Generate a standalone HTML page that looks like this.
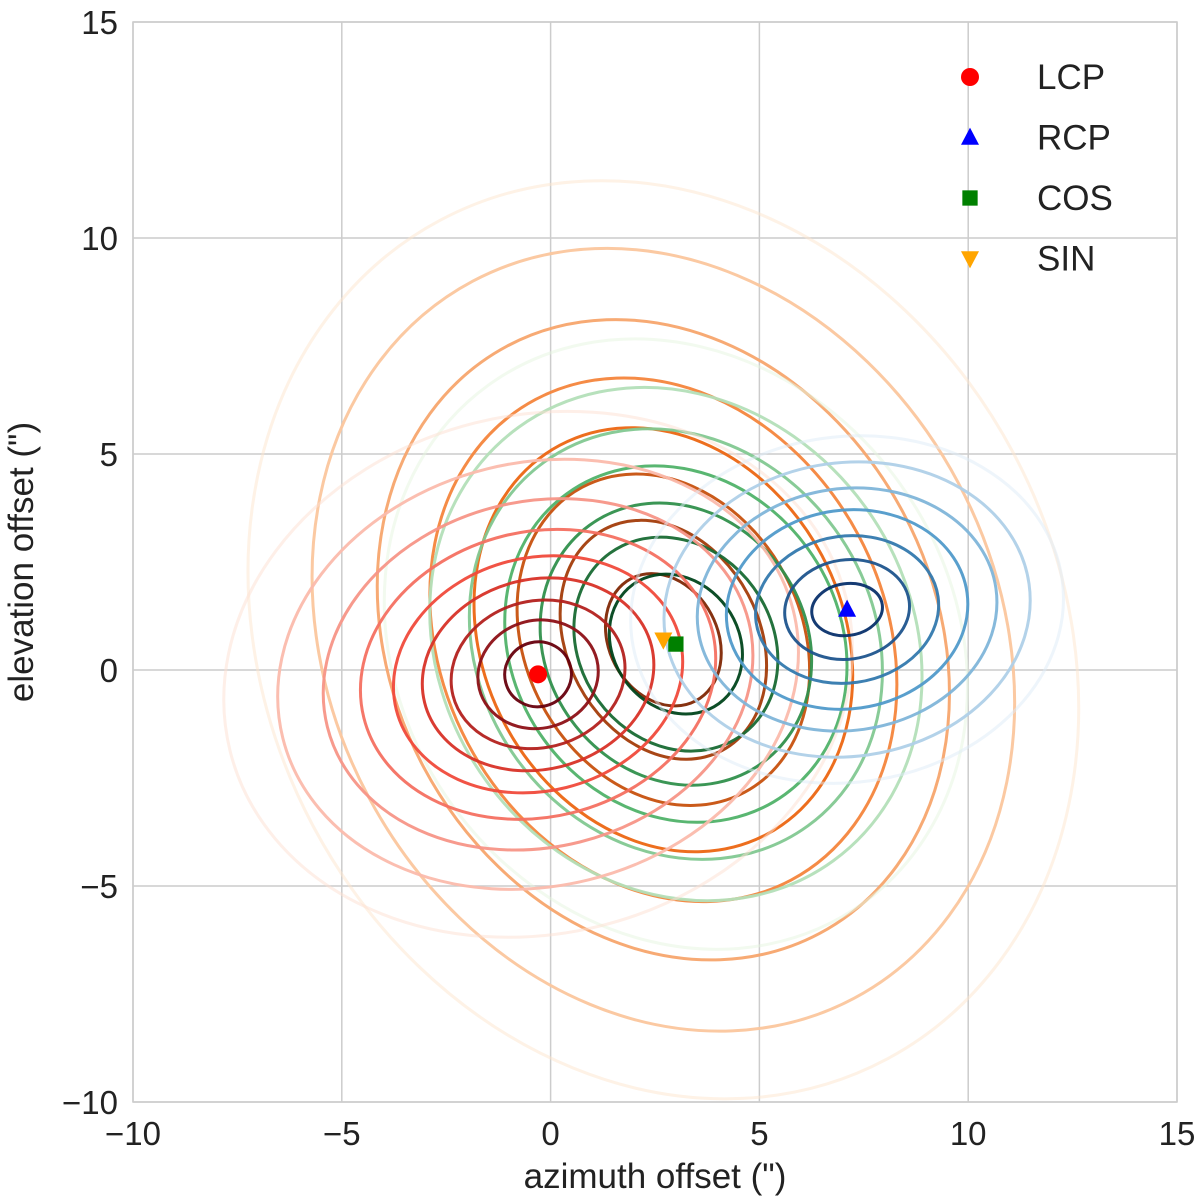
<!DOCTYPE html>
<html><head><meta charset="utf-8">
<style>
html,body{margin:0;padding:0;background:#fff;width:1200px;height:1200px;overflow:hidden;}
svg{display:block;font-family:"Liberation Sans",Arial,sans-serif;}
</style></head>
<body>
<svg id="chart" width="1200" height="1200" viewBox="0 0 1200 1200" xmlns="http://www.w3.org/2000/svg">
<defs><clipPath id="plotclip"><rect x="133" y="22" width="1044" height="1080"/></clipPath></defs>
<rect x="0" y="0" width="1200" height="1200" fill="#fff"/>
<g id="grid"></g>
<g id="contours" clip-path="url(#plotclip)"></g>
<g id="markers"></g>
<rect x="133" y="22" width="1044" height="1080" fill="none" stroke="#ccc" stroke-width="1.5"/>
<g id="ticks"></g>
<text x="655" y="1188" font-size="35" text-anchor="middle" fill="#222">azimuth offset (")</text>
<text transform="translate(33,562) rotate(-90)" font-size="35" text-anchor="middle" fill="#222">elevation offset (")</text>
<g id="legend"></g>
</svg>
<script>
const xTicks = [-10,-5,0,5,10,15];
const yTicks = [-10,-5,0,5,10,15];
const seriesNames = ["LCP","RCP","COS","SIN"];
const lcpCenter = [-0.3,-0.1];
const rcpCenter = [7.1,1.4];
const cosCenter = [3.0,0.6];
const sinCenter = [2.7,0.7];
const lcpRx = [7.6,6.3,5.2,4.3,3.5,2.8,2.1,1.45,0.8];
const lcpRy = [6.0,4.9,4.0,3.3,2.7,2.2,1.7,1.25,0.75];
const rcpRx = [5.2,4.4,3.6,2.9,2.2,1.5,0.85];
const rcpRy = [4.0,3.4,2.8,2.3,1.7,1.15,0.6];
const cosRx = [6.6,5.6,4.7,3.9,3.1,2.3,1.5];
const cosRy = [7.4,6.2,5.2,4.3,3.4,2.6,1.7];
const sinRx = [9.5,8.0,6.5,5.3,4.3,3.3,2.3,1.3];
const sinRy = [11.0,9.4,7.7,6.3,5.1,4.0,2.9,1.6];
const angles = [14,8,36,28];

const X0=133,X1=1177,Y0=1102,Y1=22;
const xs=v=>X0+(v+10)/25*(X1-X0);
const ys=v=>Y0-(v+10)/25*(Y0-Y1);
const NS="http://www.w3.org/2000/svg";
function mk(tag,attrs,parent){const e=document.createElementNS(NS,tag);for(const k in attrs)e.setAttribute(k,attrs[k]);parent.appendChild(e);return e;}

const grid=document.getElementById('grid'), ticks=document.getElementById('ticks');
xTicks.forEach(t=>{
  const l=mk('line',{x1:xs(t),x2:xs(t),y1:Y1,y2:Y0,stroke:'#ccc','stroke-width':1.5},grid);
  
  
  const tx=mk('text',{x:xs(t),y:1145,'font-size':33,'text-anchor':'middle',fill:'#222'},ticks);
  tx.textContent=t<0?'\u2212'+(-t):String(t);
  
  
});
yTicks.forEach(t=>{
  const l=mk('line',{x1:X0,x2:X1,y1:ys(t),y2:ys(t),stroke:'#ccc','stroke-width':1.5},grid);
  
  
  const tx=mk('text',{x:118,y:ys(t)+12,'font-size':33,'text-anchor':'end',fill:'#222'},ticks);
  tx.textContent=t<0?'\u2212'+(-t):String(t);
  
  
});

function lerp(a,b,t){return a.map((v,i)=>Math.round(v+(b[i]-v)*t));}
const palettes=[[[254,224,210],[103,0,13]],[[222,235,247],[8,48,107]],[[229,245,224],[0,68,27]],[[254,230,206],[127,39,4]]];
const mids=[[239,59,44],[66,146,198],[65,171,93],[241,105,19]];
function col(p,t){const [a,b]=palettes[p],m=mids[p];const c=t<0.55?lerp(a,m,t/0.55):lerp(m,b,(t-0.55)/0.45);return `rgb(${c})`;}

const cont=document.getElementById('contours');
const sets=[[lcpCenter,lcpRx,lcpRy],[rcpCenter,rcpRx,rcpRy],[cosCenter,cosRx,cosRy],[sinCenter,sinRx,sinRy]];
const order=[3,2,0,1];
order.forEach(si=>{
  const [c,rx,ry]=sets[si];
  const g=mk('g',{},cont);
  
  
  const n=rx.length;
  rx.forEach((r,i)=>{
    const t=n>1?i/(n-1):1;
    const e=mk('ellipse',{cx:xs(c[0]),cy:ys(c[1]),rx:r*(X1-X0)/25,ry:ry[i]*(Y0-Y1)/25,fill:'none',stroke:col(si,t),'stroke-width':3,'stroke-opacity':i===0?0.5:0.95,transform:`rotate(${-angles[si]} ${xs(c[0])} ${ys(c[1])})`},g);
    
    
  });
});

const mcolors=['#ff0000','#0000ff','#008000','#ffa500'];
function marker(i,x,y,s,parent){
  let e;
  if(i===0)e=mk('circle',{cx:x,cy:y,r:s,fill:mcolors[i]},parent);
  else if(i===1)e=mk('polygon',{points:`${x},${y-s*1.1} ${x-s},${y+s*0.8} ${x+s},${y+s*0.8}`,fill:mcolors[i]},parent);
  else if(i===2)e=mk('rect',{x:x-s*0.85,y:y-s*0.85,width:s*1.7,height:s*1.7,fill:mcolors[i]},parent);
  else e=mk('polygon',{points:`${x},${y+s*1.1} ${x-s},${y-s*0.8} ${x+s},${y-s*0.8}`,fill:mcolors[i]},parent);
  return e;
}
const mg=document.getElementById('markers');
[lcpCenter,rcpCenter,cosCenter,sinCenter].forEach((c,i)=>{
  const m=marker(i,xs(c[0]),ys(c[1]),9,mg);
  
  
});
const lg=document.getElementById('legend');
seriesNames.forEach((nm,i)=>{
  const y=77+i*60.5;
  const m=marker(i,970,y,9,lg);
  
  
  const t=mk('text',{x:1037,y:y+12,'font-size':35,fill:'#222'},lg);
  t.textContent=nm;
  
  
});
</script>
</body></html>
